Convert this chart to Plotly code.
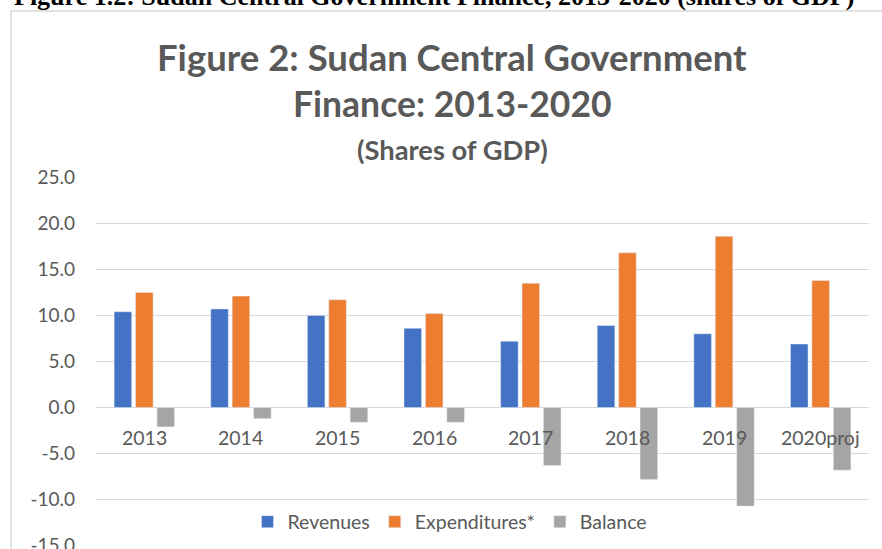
import plotly.graph_objects as go

categories = ["2013", "2014", "2015", "2016", "2017", "2018", "2019", "2020proj"]
revenues = [10.4, 10.7, 10.0, 8.6, 7.2, 8.9, 8.0, 6.9]
expenditures = [12.5, 12.1, 11.7, 10.2, 13.5, 16.8, 18.6, 13.8]
balance = [-2.1, -1.2, -1.6, -1.6, -6.3, -7.8, -10.7, -6.8]
ytick_vals = [-15, -10, -5, 0, 5, 10, 15, 20, 25]
ytick_text = ["-15.0", "-10.0", "-5.0", "0.0", "5.0", "10.0", "15.0", "20.0", "25.0"]

W, H = 882, 549
ML, MR, MT, MB = 96, 13, 177, 3
PW = W - ML - MR
PH = H - MT - MB


def px(x):
    return (x - ML) / PW


def py(y):
    return (H - MB - y) / PH


GREY = "#595959"
FONT = "Lato"

fig = go.Figure()
fig.add_trace(go.Bar(name="Revenues", x=categories, y=revenues, marker_color="#4472C4"))
fig.add_trace(go.Bar(name="Expenditures*", x=categories, y=expenditures, marker_color="#ED7D31"))
fig.add_trace(go.Bar(name="Balance", x=categories, y=balance, marker_color="#A5A5A5"))

annotations = [
    dict(text="<b>Figure 1.2: Sudan Central Government Finance, 2013-2020 (shares of GDP)</b>",
         x=px(12), y=py(13), xref="paper", yref="paper", xanchor="left", yanchor="bottom",
         showarrow=False, font=dict(family="Liberation Serif", size=26, color="black")),
    dict(text="<b>Figure 2: Sudan Central Government</b>", x=px(452), y=py(57),
         xref="paper", yref="paper", xanchor="center", yanchor="middle", showarrow=False,
         font=dict(family=FONT, size=36.5, color=GREY)),
    dict(text="<b>Finance: 2013-2020</b>", x=px(452), y=py(104),
         xref="paper", yref="paper", xanchor="center", yanchor="middle", showarrow=False,
         font=dict(family=FONT, size=35.5, color=GREY)),
    dict(text="<b>(Shares of GDP)</b>", x=px(452), y=py(150),
         xref="paper", yref="paper", xanchor="center", yanchor="middle", showarrow=False,
         font=dict(family=FONT, size=27.3, color=GREY)),
]
# category labels sit just under the zero line (axis crosses at 0);
# on a category axis the position is the category's index
for i, c in enumerate(categories):
    annotations.append(dict(text=c, x=i, y=0, xref="x", yref="y", yanchor="middle",
                            yshift=-30, showarrow=False,
                            font=dict(family=FONT, size=19.5, color=GREY)))

fig.update_layout(
    width=W, height=H,
    margin=dict(l=ML, r=MR, t=MT, b=MB, pad=0, autoexpand=False),
    paper_bgcolor="white", plot_bgcolor="white",
    barmode="group", bargap=0.335, bargroupgap=0.18,
    showlegend=True,
    legend=dict(orientation="h", x=px(450), xanchor="center", y=py(522), yanchor="middle",
                font=dict(family=FONT, size=19.5, color=GREY), bgcolor="rgba(0,0,0,0)",
                itemwidth=30),
    annotations=annotations,
    shapes=[dict(type="rect", xref="paper", yref="paper", x0=px(11), x1=px(920),
                 y0=py(580), y1=py(11), line=dict(color="#d9d9d9", width=1.5),
                 layer="below")],
    xaxis=dict(type="category", range=[-0.5, len(categories) - 0.5], automargin=False,
               showticklabels=False, showgrid=False, zeroline=False,
               showline=False, ticks=""),
    yaxis=dict(range=[-15.03, 25.03], tickvals=ytick_vals, ticktext=ytick_text,
               automargin=False,
               showgrid=True, gridcolor="#d9d9d9", gridwidth=1.3,
               zeroline=True, zerolinecolor="#d9d9d9", zerolinewidth=1.3,
               showline=False, ticks="", ticklabelstandoff=20,
               ticklabeloverflow="allow",
               tickfont=dict(family=FONT, size=19, color=GREY)),
)

fig.write_html("out.html", config={"displayModeBar": False},
               post_script="document.body.style.margin='0px';")
